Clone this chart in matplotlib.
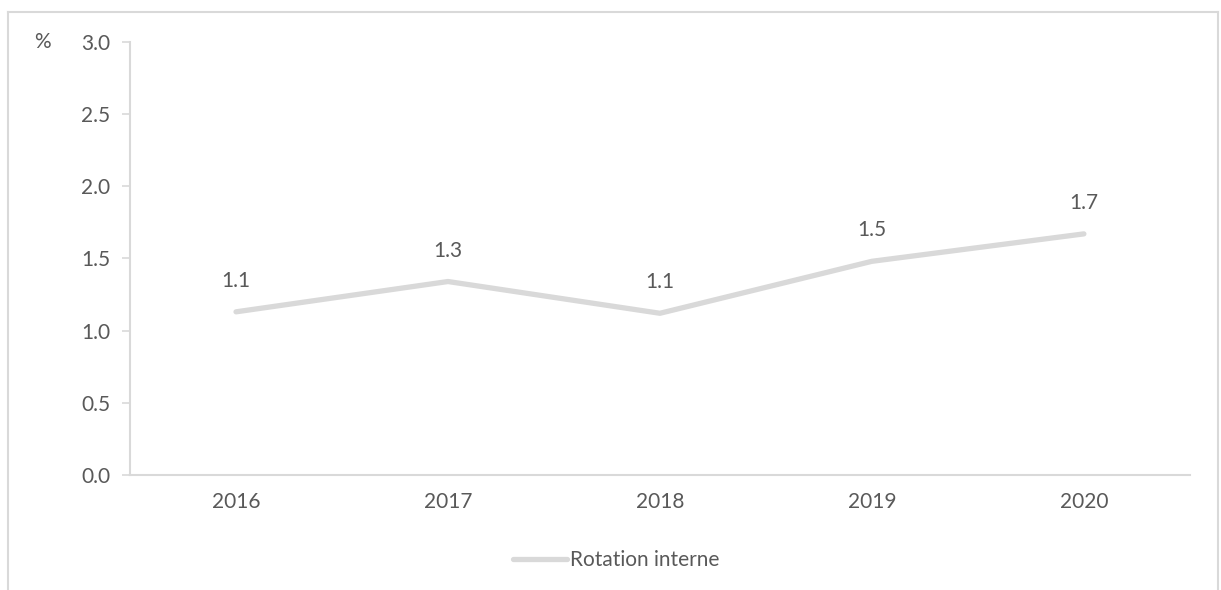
import matplotlib.pyplot as plt
from matplotlib.lines import Line2D

annees = ['2016', '2017', '2018', '2019', '2020']
rotation = [1.13, 1.34, 1.12, 1.48, 1.67]
etiquettes = ['1.1', '1.3', '1.1', '1.5', '1.7']
y_ticks = [0.0, 0.5, 1.0, 1.5, 2.0, 2.5, 3.0]

gris_texte = '#595959'
gris_ligne = '#d9d9d9'
taille = 15

plt.rcParams['font.family'] = ['Lato', 'DejaVu Sans']

fig = plt.figure(figsize=(12.21, 5.9), dpi=100)
ax = fig.add_axes([0.1065, 0.195, 0.868, 0.734])

x = range(len(annees))
ax.plot(x, rotation, color=gris_ligne, linewidth=3.8, solid_capstyle='round',
        label='Rotation interne')
for xi, v, t in zip(x, rotation, etiquettes):
    ax.annotate(t, (xi, v), xytext=(0, 15), textcoords='offset points',
                ha='center', va='bottom', fontsize=taille, color=gris_texte)

ax.set_xlim(-0.5, 4.5)
ax.set_ylim(0, 3.0)
ax.set_xticks(list(x))
ax.set_xticklabels(annees)
ax.set_yticks(y_ticks)
ax.set_yticklabels([f'{v:.1f}' for v in y_ticks])
ax.tick_params(axis='x', length=0, pad=12, labelsize=taille, labelcolor=gris_texte)
ax.tick_params(axis='y', length=6, width=1.2, color=gris_ligne, pad=8,
               labelsize=taille, labelcolor=gris_texte)

for s in ['top', 'right']:
    ax.spines[s].set_visible(False)
for s in ['left', 'bottom']:
    ax.spines[s].set_color(gris_ligne)
    ax.spines[s].set_linewidth(1.5)

fig.text(42 / 1221, 1 - 42 / 590, '%', ha='center', va='center',
         fontsize=taille, color=gris_texte)

leg = fig.legend(loc='center', bbox_to_anchor=(616 / 1221, 1 - 560 / 590),
                 frameon=False, fontsize=taille, handlelength=2.6,
                 handletextpad=0.15)
for t in leg.get_texts():
    t.set_color(gris_texte)

# cadre du graphique (le bas est coupé)
bx0, bx1, by1 = 8 / 1221, 1218 / 1221, 1 - 12 / 590
for xs, ys in [([bx0, bx0], [0, by1]), ([bx0, bx1], [by1, by1]), ([bx1, bx1], [0, by1])]:
    fig.add_artist(Line2D(xs, ys, color=gris_ligne, linewidth=1.5,
                          transform=fig.transFigure))

fig.savefig('out.png', dpi=100)
